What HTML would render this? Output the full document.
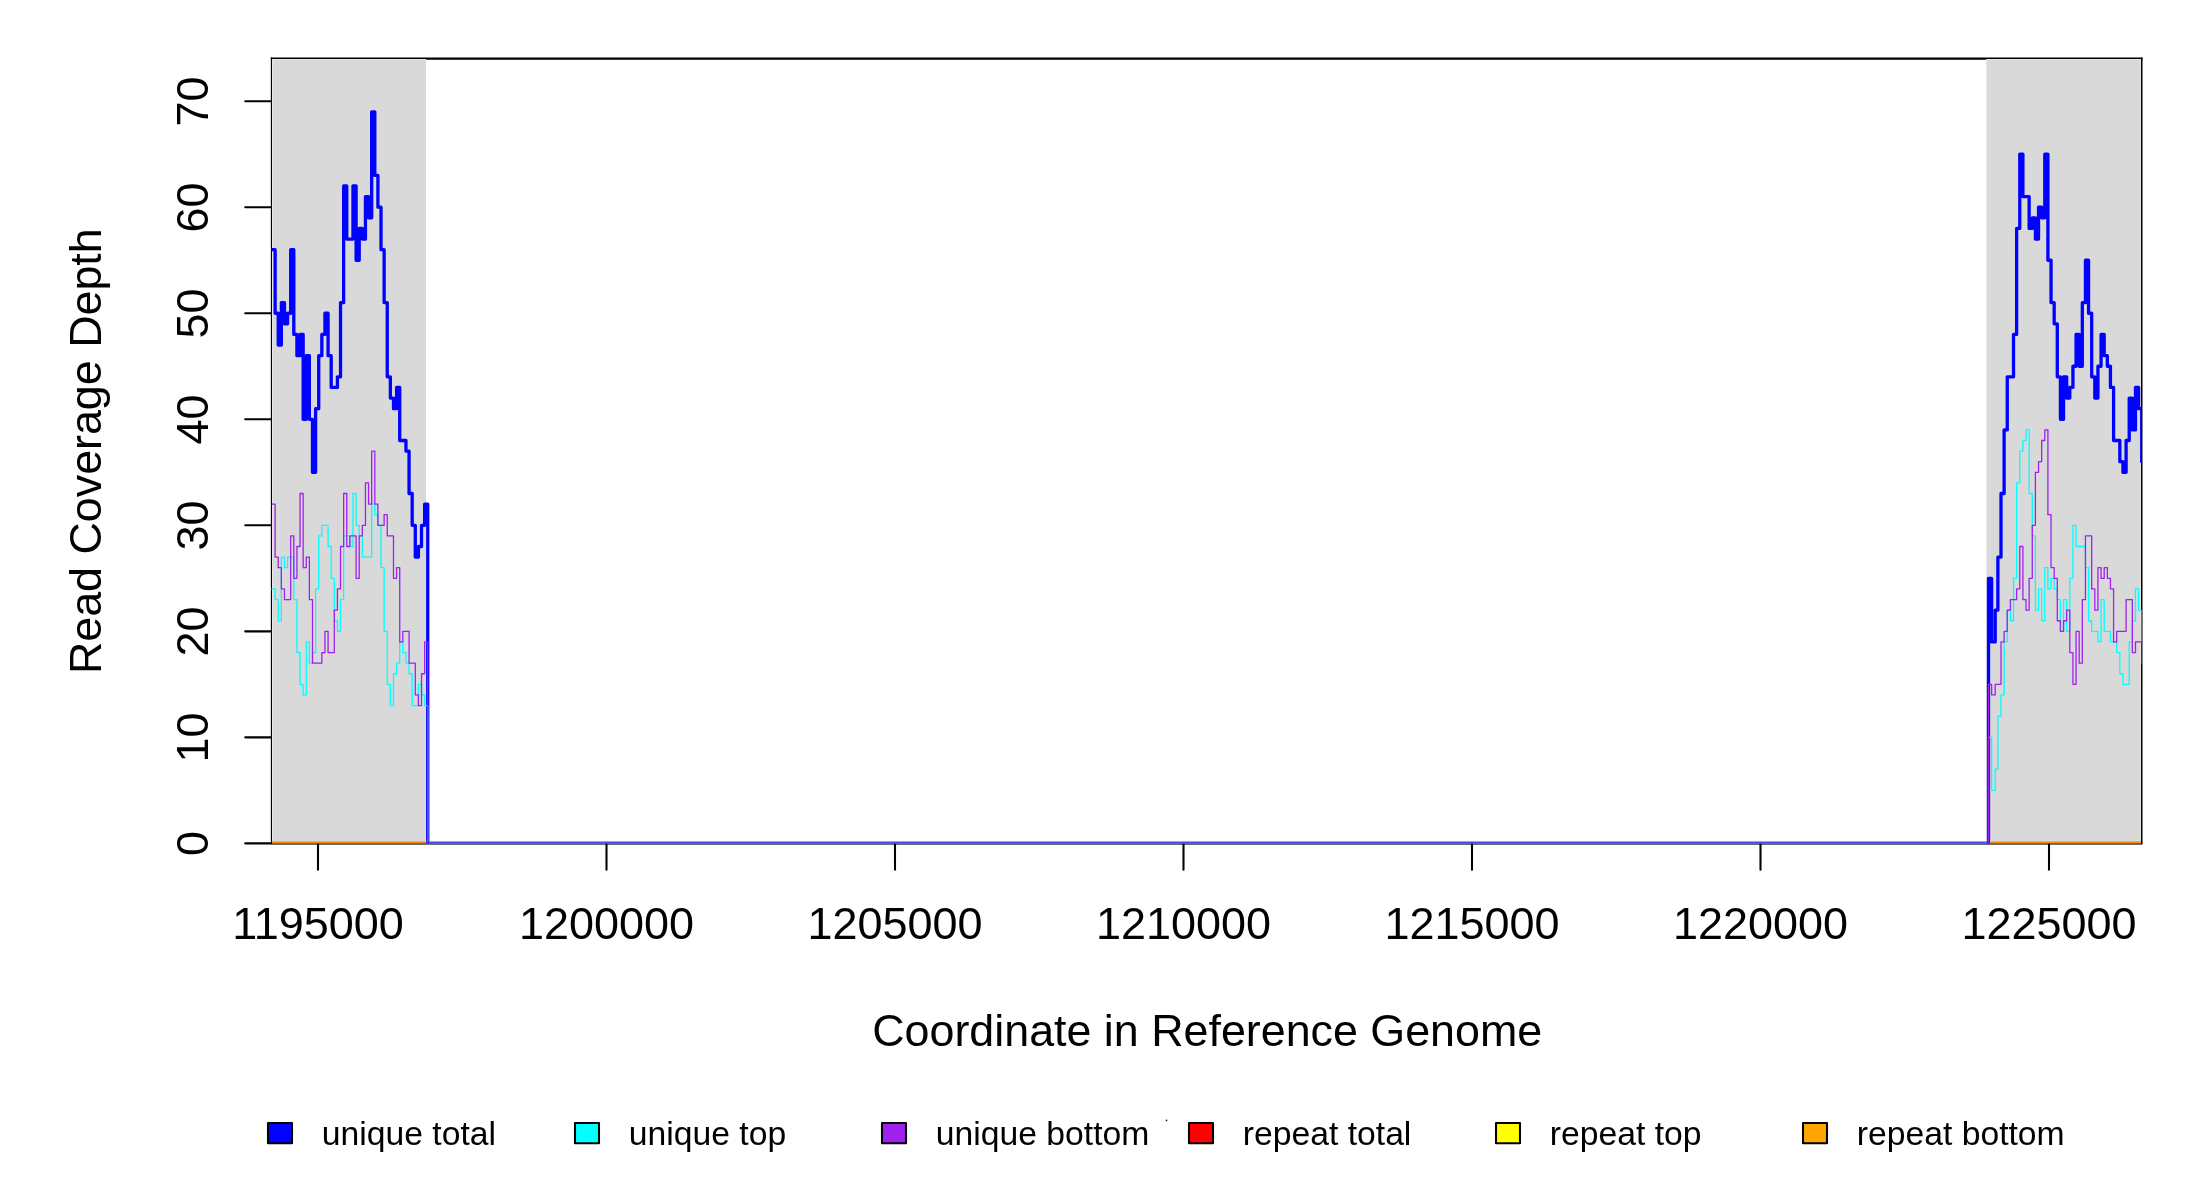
<!DOCTYPE html><html><head><meta charset="utf-8"><title>Coverage</title><style>html,body{margin:0;padding:0;background:#fff}svg{display:block;will-change:transform;opacity:0.999}</style></head><body><svg width="2200" height="1200" viewBox="0 0 2200 1200">
<defs><clipPath id="pc"><rect x="271.5" y="58.6" width="1870.1" height="784.8"/></clipPath></defs>
<rect width="2200" height="1200" fill="#fff"/>
<g fill="#000">
<rect x="270.85" y="57.5" width="1871.65" height="2.25"/>
<rect x="270.85" y="57.5" width="1.15" height="787.05"/>
<rect x="2141" y="57.5" width="1.5" height="787.05"/>
</g>
<g fill="#d9d9d9">
<rect x="272" y="59" width="154" height="785"/>
<rect x="1986.4" y="59" width="154.6" height="785"/>
</g>
<g fill="#e5e5e5">
<rect x="272" y="59" width="154" height="1"/><rect x="1986.4" y="59" width="154.6" height="1"/><rect x="272" y="59" width="1" height="781"/><rect x="2140" y="59" width="1" height="781"/>
</g>
<g clip-path="url(#pc)" fill="none" stroke-linejoin="round" stroke-linecap="round">
<path d="M270.00,249.63H275.12V313.25H278.23V345.06H281.35V302.65H284.46V323.85H287.57V313.25H290.69V249.63H293.81V334.46H296.92V355.66H300.04V334.46H303.15V419.28H306.26V355.66H309.38V419.28H312.50V472.29H315.61V408.68H318.73V355.66H321.84V334.46H324.95V313.25H328.07V355.66H331.19V387.47H334.30V387.47H337.42V376.87H340.53V302.65H343.64V186.01H346.76V239.03H349.88V239.03H352.99V186.01H356.11V260.24H359.22V228.43H362.34V239.03H365.45V196.62H368.56V217.82H371.68V111.79H374.80V175.41H377.91V207.22H381.02V249.63H384.14V302.65H387.25V376.87H390.37V398.07H393.49V408.68H396.60V387.47H399.72V440.49H402.83V440.49H405.95V451.09H409.06V493.50H412.18V525.31H415.29V557.12H418.40V546.52H421.52V525.31H424.63V504.10H427.75V843.40H1988.50V578.33H1991.63V641.94H1995.20V610.13H1997.88V557.12H2001.01V493.50H2004.13V429.88H2007.26V376.87H2010.39V376.87H2013.52V334.46H2016.64V228.43H2019.77V154.21H2022.90V196.62H2026.02V196.62H2029.15V228.43H2032.28V217.82H2035.40V239.03H2038.53V207.22H2041.66V217.82H2044.79V154.21H2047.91V260.24H2051.04V302.65H2054.17V323.85H2057.29V376.87H2060.42V419.28H2063.55V376.87H2066.68V398.07H2069.80V387.47H2072.93V366.26H2076.06V334.46H2079.18V366.26H2082.31V302.65H2085.44V260.24H2088.56V313.25H2091.69V376.87H2094.82V398.07H2097.95V366.26H2101.07V334.46H2104.20V355.66H2107.33V366.26H2110.45V387.47H2113.58V440.49H2116.71V440.49H2119.83V461.69H2122.96V472.29H2126.09V440.49H2129.22V398.07H2132.34V429.88H2135.47V387.47H2138.60V408.68H2141.72V461.69H2144.85" stroke="#0000ff" stroke-width="3.3"/>
<path d="M270.00,588.93H275.12V599.53H278.23V620.74H281.35V557.12H284.46V567.72H287.57V557.12H290.69V557.12H293.81V599.53H296.92V652.55H300.04V684.36H303.15V694.96H306.26V641.94H309.38V663.15H312.50V652.55H315.61V588.93H318.73V535.91H321.84V525.31H324.95V525.31H328.07V546.52H331.19V578.33H334.30V620.74H337.42V631.34H340.53V599.53H343.64V535.91H346.76V535.91H349.88V546.52H352.99V493.50H356.11V525.31H359.22V535.91H362.34V557.12H365.45V557.12H368.56V557.12H371.68V504.10H374.80V514.71H377.91V525.31H381.02V567.72H384.14V631.34H387.25V684.36H390.37V705.56H393.49V673.75H396.60V663.15H399.72V641.94H402.83V652.55H405.95V663.15H409.06V673.75H412.18V705.56H415.29V705.56H418.40V684.36H421.52V694.96H424.63V705.56H427.75V843.40H1988.50V737.37H1991.63V790.38H1995.20V769.18H1997.88V716.16H2001.01V694.96H2004.13V641.94H2007.26V610.13H2010.39V620.74H2013.52V578.33H2016.64V482.90H2019.77V451.09H2022.90V440.49H2026.02V429.88H2029.15V493.50H2032.28V535.91H2035.40V610.13H2038.53V588.93H2041.66V620.74H2044.79V567.72H2047.91V588.93H2051.04V578.33H2054.17V588.93H2057.29V599.53H2060.42V631.34H2063.55V599.53H2066.68V631.34H2069.80V578.33H2072.93V525.31H2076.06V546.52H2079.18V546.52H2082.31V546.52H2085.44V567.72H2088.56V620.74H2091.69V631.34H2094.82V631.34H2097.95V641.94H2101.07V599.53H2104.20V631.34H2107.33V631.34H2110.45V641.94H2113.58V641.94H2116.71V652.55H2119.83V673.75H2122.96V684.36H2126.09V684.36H2129.22V641.94H2132.34V620.74H2135.47V588.93H2138.60V610.13H2141.72V641.94H2144.85" stroke="#00ffff" stroke-width="1.3"/>
<path d="M270.00,504.10H275.12V557.12H278.23V567.72H281.35V588.93H284.46V599.53H287.57V599.53H290.69V535.91H293.81V578.33H296.92V546.52H300.04V493.50H303.15V567.72H306.26V557.12H309.38V599.53H312.50V663.15H315.61V663.15H318.73V663.15H321.84V652.55H324.95V631.34H328.07V652.55H331.19V652.55H334.30V610.13H337.42V588.93H340.53V546.52H343.64V493.50H346.76V546.52H349.88V535.91H352.99V535.91H356.11V578.33H359.22V535.91H362.34V525.31H365.45V482.90H368.56V504.10H371.68V451.09H374.80V504.10H377.91V525.31H381.02V525.31H384.14V514.71H387.25V535.91H390.37V535.91H393.49V578.33H396.60V567.72H399.72V641.94H402.83V631.34H405.95V631.34H409.06V663.15H412.18V663.15H415.29V694.96H418.40V705.56H421.52V673.75H424.63V641.94H427.75V843.40H1988.50V684.36H1991.63V694.96H1995.20V684.36H1997.88V684.36H2001.01V641.94H2004.13V631.34H2007.26V610.13H2010.39V599.53H2013.52V599.53H2016.64V588.93H2019.77V546.52H2022.90V599.53H2026.02V610.13H2029.15V578.33H2032.28V525.31H2035.40V472.29H2038.53V461.69H2041.66V440.49H2044.79V429.88H2047.91V514.71H2051.04V567.72H2054.17V578.33H2057.29V620.74H2060.42V631.34H2063.55V620.74H2066.68V610.13H2069.80V652.55H2072.93V684.36H2076.06V631.34H2079.18V663.15H2082.31V599.53H2085.44V535.91H2088.56V535.91H2091.69V588.93H2094.82V610.13H2097.95V567.72H2101.07V578.33H2104.20V567.72H2107.33V578.33H2110.45V588.93H2113.58V641.94H2116.71V631.34H2119.83V631.34H2122.96V631.34H2126.09V599.53H2129.22V599.53H2132.34V652.55H2135.47V641.94H2138.60V641.94H2141.72V663.15H2144.85" stroke="#a020f0" stroke-width="1.3"/>
</g>
<rect x="272.00" y="840" width="154.20" height="1" fill="rgb(216,220,220)"/>
<rect x="272.00" y="841" width="154.20" height="1" fill="rgb(230,160,165)"/>
<rect x="272.00" y="842" width="154.20" height="1" fill="rgb(255,140,0)"/>
<rect x="272.00" y="843" width="154.20" height="1" fill="rgb(155,90,5)"/>
<rect x="272.00" y="844" width="154.20" height="1" fill="rgb(110,110,115)"/>
<rect x="1990.20" y="840" width="150.80" height="1" fill="rgb(216,220,220)"/>
<rect x="1990.20" y="841" width="150.80" height="1" fill="rgb(230,160,165)"/>
<rect x="1990.20" y="842" width="150.80" height="1" fill="rgb(255,140,0)"/>
<rect x="1990.20" y="843" width="150.80" height="1" fill="rgb(155,90,5)"/>
<rect x="1990.20" y="844" width="150.80" height="1" fill="rgb(110,110,115)"/>
<rect x="429.50" y="841" width="1557.50" height="1" fill="rgb(198,145,212)"/>
<rect x="429.50" y="842" width="1557.50" height="1" fill="rgb(76,76,245)"/>
<rect x="429.50" y="843" width="1557.50" height="1" fill="rgb(105,98,150)"/>
<rect x="429.50" y="844" width="1557.50" height="1" fill="rgb(105,105,105)"/>
<rect x="426.20" y="842" width="3.30" height="1" fill="rgb(60,40,230)"/>
<rect x="426.20" y="843" width="3.30" height="1" fill="rgb(70,60,150)"/>
<rect x="426.20" y="844" width="3.30" height="1" fill="rgb(105,105,110)"/>
<rect x="1987.00" y="842" width="3.20" height="1" fill="rgb(60,40,230)"/>
<rect x="1987.00" y="843" width="3.20" height="1" fill="rgb(70,60,150)"/>
<rect x="1987.00" y="844" width="3.20" height="1" fill="rgb(105,105,110)"/>
<g stroke="#000" stroke-width="2.08" stroke-linecap="round" fill="none">
<path d="M245.25,843.40H270.5"/>
<path d="M245.25,737.37H270.5"/>
<path d="M245.25,631.34H270.5"/>
<path d="M245.25,525.31H270.5"/>
<path d="M245.25,419.28H270.5"/>
<path d="M245.25,313.25H270.5"/>
<path d="M245.25,207.22H270.5"/>
<path d="M245.25,101.19H270.5"/>
<path d="M318.00,844.6V869.7"/>
<path d="M606.50,844.6V869.7"/>
<path d="M895.00,844.6V869.7"/>
<path d="M1183.50,844.6V869.7"/>
<path d="M1472.00,844.6V869.7"/>
<path d="M1760.50,844.6V869.7"/>
<path d="M2049.00,844.6V869.7"/>
</g>
<g font-family="Liberation Sans, sans-serif" fill="#000">
<g font-size="44.96" text-anchor="middle">
<text x="318.0" y="938.6">1195000</text>
<text x="606.5" y="938.6">1200000</text>
<text x="895.0" y="938.6">1205000</text>
<text x="1183.5" y="938.6">1210000</text>
<text x="1472.0" y="938.6">1215000</text>
<text x="1760.5" y="938.6">1220000</text>
<text x="2049.0" y="938.6">1225000</text>
<text transform="translate(208.3,843.6) rotate(-90)">0</text>
<text transform="translate(208.3,737.6) rotate(-90)">10</text>
<text transform="translate(208.3,631.5) rotate(-90)">20</text>
<text transform="translate(208.3,525.5) rotate(-90)">30</text>
<text transform="translate(208.3,419.5) rotate(-90)">40</text>
<text transform="translate(208.3,313.4) rotate(-90)">50</text>
<text transform="translate(208.3,207.4) rotate(-90)">60</text>
<text transform="translate(208.3,101.4) rotate(-90)">70</text>
<text x="1207.2" y="1046" font-size="44.8">Coordinate in Reference Genome</text>
<text transform="translate(101.3,451.2) rotate(-90)" font-size="44.8">Read Coverage Depth</text>
</g>
<g font-size="33.7">
<rect x="268.00" y="1123" width="24.0" height="20.2" fill="#0000ff" stroke="#000" stroke-width="2.08" stroke-linejoin="round"/>
<text x="321.8" y="1144.7">unique total</text>
<rect x="575.00" y="1123" width="24.0" height="20.2" fill="#00ffff" stroke="#000" stroke-width="2.08" stroke-linejoin="round"/>
<text x="628.8" y="1144.7">unique top</text>
<rect x="882.00" y="1123" width="24.0" height="20.2" fill="#a020f0" stroke="#000" stroke-width="2.08" stroke-linejoin="round"/>
<text x="935.8" y="1144.7">unique bottom</text>
<rect x="1189.00" y="1123" width="24.0" height="20.2" fill="#ff0000" stroke="#000" stroke-width="2.08" stroke-linejoin="round"/>
<text x="1242.8" y="1144.7">repeat total</text>
<rect x="1496.00" y="1123" width="24.0" height="20.2" fill="#ffff00" stroke="#000" stroke-width="2.08" stroke-linejoin="round"/>
<text x="1549.8" y="1144.7">repeat top</text>
<rect x="1803.00" y="1123" width="24.0" height="20.2" fill="#ffa500" stroke="#000" stroke-width="2.08" stroke-linejoin="round"/>
<text x="1856.8" y="1144.7">repeat bottom</text>
</g></g>
<circle cx="1166.5" cy="1120.3" r="0.85" fill="#111"/>
</svg></body></html>
